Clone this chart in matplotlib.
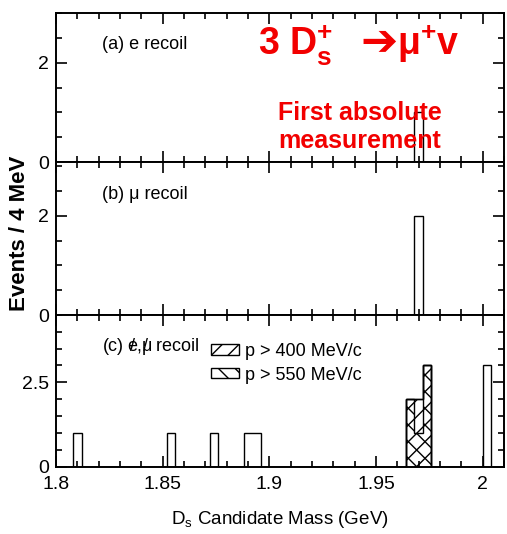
import numpy as np
import matplotlib
matplotlib.use("Agg")
import matplotlib.pyplot as plt
from matplotlib.patches import Patch
from matplotlib.ticker import MultipleLocator

plt.rcParams["font.family"] = ["Liberation Sans", "DejaVu Sans"]
plt.rcParams["mathtext.fontset"] = "custom"
plt.rcParams["mathtext.rm"] = "Liberation Sans"
plt.rcParams["mathtext.bf"] = "Liberation Sans:bold"

# candidate masses (GeV), one entry per event
events_e = [1.970]
events_mu = [1.970, 1.970]
events_all = [1.810, 1.854, 1.874, 1.890, 1.894,
              1.966, 1.966, 1.970, 1.970, 1.974, 1.974, 1.974,
              2.002, 2.002, 2.002]
events_p400 = [1.966, 1.966, 1.970, 1.970, 1.974, 1.974, 1.974]
events_p550 = [1.966, 1.966, 1.970, 1.974, 1.974, 1.974]

# slashed e and mu: a "/" pulled back over the preceding letter
slash = r"$\hspace{-0.5}$/$\hspace{0.12}$"
panel_labels = ["(a) e recoil", "(b) \u03bc recoil",
                "(c) e" + slash + ",\u03bc" + slash + " recoil"]
legend_labels = ["p > 400 MeV/c", "p > 550 MeV/c"]

edges = np.arange(1.800, 2.0121, 0.004)
xlim = (1.8, 2.01)
red = "#f20000"

fig = plt.figure(figsize=(5.07, 5.34), dpi=100)
left, width = 0.1105, 0.8836
ax_a = fig.add_axes([left, 0.696, width, 0.280])
ax_b = fig.add_axes([left, 0.410, width, 0.286])
ax_c = fig.add_axes([left, 0.126, width, 0.2846])


def hist(ax, events, **kw):
    counts, _ = np.histogram(events, bins=edges)
    ax.stairs(counts, edges, **kw)


hist(ax_a, events_e, color="black", lw=1.0)
hist(ax_b, events_mu, color="black", lw=1.0)
hist(ax_c, events_all, color="black", lw=1.0)
hist(ax_c, events_p400, fill=True, facecolor="none", edgecolor="black", hatch="//", lw=1.0)
hist(ax_c, events_p550, fill=True, facecolor="none", edgecolor="black", hatch="\\\\", lw=1.0)

for ax, top, major in [(ax_a, 3.0, 2), (ax_b, 3.08, 2), (ax_c, 4.5, 2.5)]:
    ax.set_xlim(*xlim)
    ax.set_ylim(0, top)
    ax.xaxis.set_major_locator(MultipleLocator(0.05))
    ax.xaxis.set_minor_locator(MultipleLocator(0.01))
    ax.yaxis.set_major_locator(MultipleLocator(major))
    ax.yaxis.set_minor_locator(MultipleLocator(0.5))
    ax.tick_params(which="both", direction="in", top=True, right=True, width=1.2)
    ax.tick_params(which="major", length=8, labelsize=14, pad=5)
    ax.tick_params(which="minor", length=4.5)
    for s in ax.spines.values():
        s.set_linewidth(1.4)

ax_a.tick_params(labelbottom=False)
ax_b.tick_params(labelbottom=False)
ax_c.set_yticks([0, 2.5], ["0", "2.5"])
ax_c.tick_params(axis="x", pad=7)
ax_c.set_xticks([1.8, 1.85, 1.9, 1.95, 2.0], ["1.8", "1.85", "1.9", "1.95", "2"])

for ax, lab in zip([ax_a, ax_b, ax_c], panel_labels):
    ax.text(0.103, 0.79, lab, transform=ax.transAxes, fontsize=13,
            va="center", ha="left")

handles = [Patch(facecolor="white", edgecolor="black", hatch="//", lw=1.0),
           Patch(facecolor="white", edgecolor="black", hatch="\\\\", lw=1.0)]
ax_c.legend(handles, legend_labels, loc="upper left", bbox_to_anchor=(0.345, 0.815),
            frameon=False, fontsize=13, handlelength=1.6, handleheight=0.5,
            handletextpad=0.3, labelspacing=0.38, borderpad=0, borderaxespad=0)

ax_c.set_xlabel("D$_\\mathrm{s}$ Candidate Mass (GeV)", fontsize=13.5, labelpad=11)
fig.text(0.039, 0.564, "Events / 4 MeV", rotation=90, fontsize=16,
         fontweight="bold", va="center", ha="center")

# red headline, in three pieces so the arrow can be a heavy glyph
fig.text(258 / 507, 1 - 55 / 534, "3 D$_\\mathbf{s}^\\mathbf{+}$",
         color=red, fontsize=27, fontweight="bold", va="baseline", ha="left")
fig.text(360 / 507, 1 - 54 / 534, "\u2794", color=red, fontsize=32,
         fontweight="bold", family="DejaVu Sans", va="baseline", ha="left")
fig.text(397 / 507, 1 - 55 / 534, "\u03bc$^\\mathbf{+}$v",
         color=red, fontsize=27, fontweight="bold", va="baseline", ha="left")
fig.text(0.709, 0.762, "First absolute\nmeasurement", color=red,
         fontsize=18, fontweight="bold", va="center", ha="center",
         multialignment="center", linespacing=1.2)

fig.savefig("out.png", dpi=100)
